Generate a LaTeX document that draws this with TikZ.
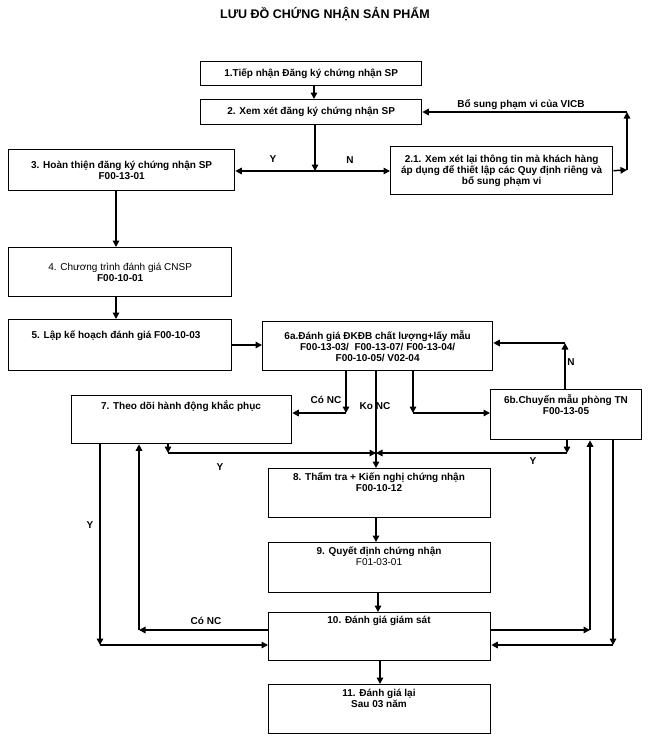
\documentclass[tikz,border=0pt]{standalone}
\usepackage{fontspec}
\setmainfont{Liberation Sans}
\usetikzlibrary{arrows.meta}
\begin{document}
\begin{tikzpicture}[x=1pt,y=-1pt,
  box/.style={draw, line width=1.3pt, anchor=north west, inner sep=0pt},
  bt/.style={font=\fontsize{10}{11}\selectfont\bfseries, align=center, inner sep=0pt},
  tt/.style={bt, anchor=north},
  arr/.style={line width=1.5pt, -{Triangle[length=6.5pt,width=6.5pt]}},
  lbl/.style={font=\fontsize{10}{11}\selectfont\bfseries, inner sep=0pt}]
\useasboundingbox (0,0) rectangle (650,739);
\fill[white] (0,0) rectangle (650,739);

\node[font=\fontsize{12.5}{14}\selectfont\bfseries, inner sep=0pt] (title) at (325,14) {LƯU ĐỒ CHỨNG NHẬN SẢN PHẨM};

% boxes
\node[box, bt, minimum width=221pt, minimum height=24pt] (b1) at (200,61) {1.Tiếp nhận Đăng ký chứng nhận SP};
\node[box, bt, minimum width=221pt, minimum height=25pt] (b2) at (200,99) {2. Xem xét đăng ký chứng nhận SP};
\node[box, bt, minimum width=226pt, minimum height=41pt] (b3) at (8,149) {3. Hoàn thiện đăng ký chứng nhận SP\\F00-13-01};
\node[box, bt, minimum width=222pt, minimum height=48pt] (b21) at (390,146) {2.1. Xem xét lại thông tin mà khách hàng\\áp dụng để thiết lập các Quy định riêng và\\bổ sung phạm vi};
\node[box, bt, minimum width=223pt, minimum height=49pt] (b4) at (8,247) {{\mdseries 4. Chương trình đánh giá CNSP}\\F00-10-01};
\node[box, minimum width=223pt, minimum height=51pt] (b5) at (8,319) {};
\node[tt] (t5) at (116,331) {5. Lập kế hoạch đánh giá F00-10-03};
\node[box, bt, minimum width=230pt, minimum height=49pt] (b6a) at (262,321) {6a.Đánh giá ĐKĐB chất lượng+lấy mẫu\\F00-13-03/\ \ F00-13-07/ F00-13-04/\\F00-10-05/ V02-04};
\node[box, minimum width=220pt, minimum height=48pt] (b7) at (71,395) {};
\node[tt] (t7) at (181,400) {7. Theo dõi hành động khắc phục};
\node[box, minimum width=151pt, minimum height=50pt] (b6b) at (490,389) {};
\node[tt] (t6b) at (566,394) {6b.Chuyển mẫu phòng TN\\F00-13-05};
\node[box, minimum width=222pt, minimum height=49pt] (b8) at (268,468) {};
\node[tt] (t8) at (379,472) {8. Thẩm tra + Kiến nghị chứng nhận\\F00-10-12};
\node[box, minimum width=222pt, minimum height=50pt] (b9) at (268,542) {};
\node[tt] (t9) at (379,547) {9. Quyết định chứng nhận\\{\mdseries F01-03-01}};
\node[box, minimum width=222pt, minimum height=48pt] (b10) at (268,612) {};
\node[tt] (t10) at (379,616) {10. Đánh giá giám sát};
\node[box, minimum width=222pt, minimum height=49pt] (b11) at (268,684) {};
\node[tt] (t11) at (379,689) {11. Đánh giá lại\\Sau 03 năm};

% lanes and junctions
\coordinate (x314) at (314,0);
\coordinate (j2) at (315,171);
\coordinate (c1) at (627,170);
\coordinate (c2) at (627,112);
\coordinate (x116) at (116,0);
\coordinate (y345) at (0,345);
\coordinate (c3) at (346,413);
\coordinate (c4) at (376,453);
\coordinate (c5) at (413,413);
\coordinate (c6) at (168,453);
\coordinate (c7) at (567,453);
\coordinate (c8) at (100,645);
\coordinate (c9) at (139,630);
\coordinate (c10) at (590,630);
\coordinate (c11) at (613,645);
\coordinate (x378) at (378,0);
\coordinate (x380) at (380,0);
\coordinate (c12) at (565,343);

% connectors
\draw[arr] (b1.south -| x314) -- (b2.north -| x314);
\draw[arr] (b2.south -| j2) -- (j2);
\draw[arr] (j2) -- (b3.east |- j2);
\draw[arr] (j2) -- (b21.west |- j2);
\draw[arr] (b21.east) -- (c1);
\draw[arr] (c1) -- (c2);
\draw[arr] (c2) -- (b2.east |- c2);
\draw[arr] (b3.south -| x116) -- (b4.north -| x116);
\draw[arr] (b4.south -| x116) -- (b5.north -| x116);
\draw[arr] (b5.east |- y345) -- (b6a.west |- y345);
\draw[arr] (b6a.south -| c3) -- (c3);
\draw[arr] (c3) -- (b7.east |- c3);
\draw[arr] (b6a.south -| c4) -- (b8.north -| c4);
\draw[arr] (b6a.south -| c5) -- (c5);
\draw[arr] (c5) -- (b6b.west |- c5);
\draw[arr] (b7.south -| c6) -- (c6);
\draw[arr] (c6) -- (c4);
\draw[arr] (b6b.south -| c7) -- (c7);
\draw[arr] (c7) -- (c4);
\draw[arr] (b7.south -| c8) -- (c8);
\draw[arr] (c8) -- (b10.west |- c8);
\draw[arr] (b10.west |- c9) -- (c9);
\draw[arr] (c9) -- (b7.south -| c9);
\draw[arr] (b10.east |- c10) -- (c10);
\draw[arr] (c10) -- (b6b.south -| c10);
\draw[arr] (b6b.south -| c11) -- (c11);
\draw[arr] (c11) -- (b10.east |- c11);
\draw[arr] (b8.south -| c4) -- (b9.north -| c4);
\draw[arr] (b9.south -| x378) -- (b10.north -| x378);
\draw[arr] (b10.south -| x380) -- (b11.north -| x380);
\draw[arr] (b6b.north -| c12) -- (c12);
\draw[arr] (c12) -- (b6a.east |- c12);

% labels
\node[lbl] (lY1) at (273,159) {Y};
\node[lbl] (lN1) at (350,160) {N};
\node[lbl] (lbs) at (521,105) {Bổ sung phạm vi của VICB};
\node[lbl] (lN2) at (571,362) {N};
\node[lbl] (lco1) at (326,400) {Có NC};
\node[lbl] (lko) at (375,406) {Ko NC};
\node[lbl] (lY2) at (220,467) {Y};
\node[lbl] (lY3) at (533,461) {Y};
\node[lbl] (lY4) at (90,525) {Y};
\node[lbl] (lco2) at (206,621) {Có NC};
\end{tikzpicture}
\end{document}
